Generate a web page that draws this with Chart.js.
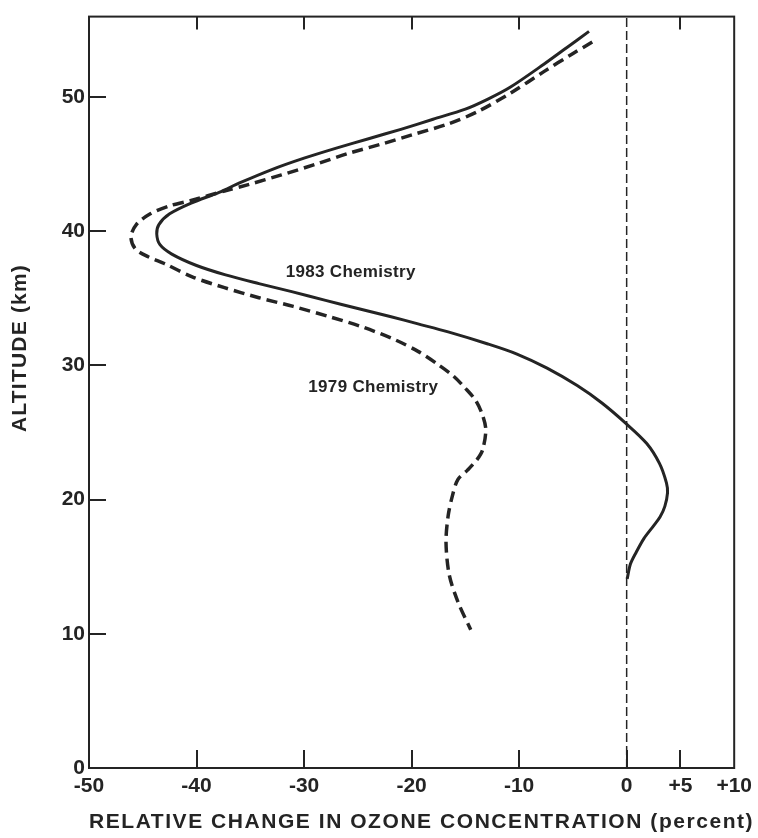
<!DOCTYPE html>
<html>
<head>
<meta charset="utf-8">
<title>Ozone change vs altitude</title>
<script src="https://cdn.jsdelivr.net/npm/chart.js@4.4.1/dist/chart.umd.min.js"></script>
<style>
  html, body { margin: 0; padding: 0; background: #fff; }
  #wrap { width: 758px; height: 838px; position: relative; }
</style>
</head>
<body>
<div id="wrap"><canvas id="c"></canvas></div>
<script>
// Relative change in ozone (percent) against altitude (km), pairs of [change, altitude]
const chem1983 = [
  [-3.5, 54.9], [-5.55, 53.7], [-7.7, 52.45], [-10.8, 50.75], [-12.9, 49.85],
  [-15.0, 49.1], [-18.0, 48.35], [-21.0, 47.6], [-24.0, 46.9], [-27.0, 46.2],
  [-30.0, 45.45], [-33.0, 44.6], [-36.0, 43.6], [-37.9, 42.9], [-40.5, 42.1],
  [-42.5, 41.3], [-43.5, 40.5], [-43.7, 39.8], [-43.4, 39.0], [-42.3, 38.3],
  [-40.0, 37.45], [-37.3, 36.75], [-34.2, 36.1], [-31.15, 35.5], [-28.0, 34.85],
  [-25.0, 34.25], [-22.0, 33.65], [-19.4, 33.1], [-16.6, 32.5], [-12.9, 31.6],
  [-10.2, 30.85], [-7.4, 29.8], [-4.6, 28.5], [-2.3, 27.2], [-0.1, 25.7],
  [1.85, 24.2], [3.05, 22.7], [3.7, 21.25], [3.8, 20.5], [3.55, 19.5],
  [3.1, 18.7], [2.5, 18.05], [1.6, 17.1], [0.9, 16.1], [0.35, 15.2], [0.05, 14.1]
];
const chem1979 = [
  [-3.2, 54.1], [-5.1, 53.2], [-7.7, 51.9], [-10.8, 50.3], [-13.9, 48.9],
  [-16.6, 48.0], [-19.9, 47.2], [-22.8, 46.5], [-25.9, 45.8], [-28.9, 45.0],
  [-32.1, 44.2], [-35.1, 43.5], [-37.4, 43.0], [-40.5, 42.3], [-42.5, 41.9],
  [-44.3, 41.3], [-45.6, 40.5], [-46.1, 39.6], [-45.7, 38.7], [-44.5, 38.1],
  [-43.0, 37.6], [-40.4, 36.6], [-37.4, 35.8], [-34.2, 35.05], [-31.0, 34.4],
  [-27.7, 33.65], [-24.5, 32.85], [-21.5, 31.9], [-19.4, 31.05], [-17.6, 30.1],
  [-16.1, 29.2], [-15.0, 28.3], [-14.05, 27.4], [-13.4, 26.3], [-13.1, 25.2],
  [-13.4, 23.7], [-13.9, 23.0], [-14.8, 22.2], [-15.7, 21.5], [-16.2, 20.3],
  [-16.6, 18.8], [-16.8, 16.8], [-16.5, 14.4], [-15.7, 12.4], [-14.5, 10.3]
];
const zeroLine = [[0, 0], [0, 56]];

const xTicks = [-50, -40, -30, -20, -10, 0, 5, 10];
const yTicks = [0, 10, 20, 30, 40, 50];
const bottomMarks = [-40, -30, -20, -10, 0, 5];
const topMarks = [-40, -30, -20, -10, 5];
const leftMarks = [10, 20, 30, 40, 50];

const seriesNames = ['1983 Chemistry', '1979 Chemistry'];
const xTitle = 'RELATIVE CHANGE IN OZONE CONCENTRATION (percent)';
const yTitle = 'ALTITUDE (km)';

const INK = '#242424';
const FONT = '"Liberation Sans", Arial, Helvetica, sans-serif';

const toXY = arr => arr.map(([x, y]) => ({ x, y }));

// Frame, inward tick marks, curve labels and axis titles
const decor = {
  id: 'decor',
  afterDraw(chart) {
    const { ctx, chartArea: a, scales: { x, y } } = chart;
    ctx.save();
    ctx.strokeStyle = INK;
    ctx.lineWidth = 2;
    ctx.strokeRect(a.left, a.top, a.right - a.left, a.bottom - a.top);

    ctx.beginPath();
    bottomMarks.forEach(v => {
      const px = Math.round(x.getPixelForValue(v));
      ctx.moveTo(px, a.bottom);
      ctx.lineTo(px, a.bottom - 18);
    });
    topMarks.forEach(v => {
      const px = Math.round(x.getPixelForValue(v));
      ctx.moveTo(px, a.top);
      ctx.lineTo(px, a.top + 13);
    });
    leftMarks.forEach(v => {
      const py = Math.round(y.getPixelForValue(v));
      ctx.moveTo(a.left, py);
      ctx.lineTo(a.left + 17, py);
    });
    ctx.stroke();

    ctx.fillStyle = INK;
    ctx.textBaseline = 'middle';
    ctx.textAlign = 'left';
    ctx.font = 'bold 17px ' + FONT;
    ctx.letterSpacing = '0.3px';
    ctx.fillText(seriesNames[0], x.getPixelForValue(-31.7), y.getPixelForValue(36.95));
    ctx.fillText(seriesNames[1], x.getPixelForValue(-29.6), y.getPixelForValue(28.4));

    ctx.font = 'bold 21px ' + FONT;
    ctx.letterSpacing = '1.55px';
    ctx.textAlign = 'left';
    ctx.fillText(xTitle, a.left, 822);

    ctx.translate(20, 348);
    ctx.rotate(-Math.PI / 2);
    ctx.textAlign = 'center';
    ctx.letterSpacing = '1.2px';
    ctx.fillText(yTitle, 0, 0);
    ctx.restore();
  }
};

new Chart(document.getElementById('c'), {
  type: 'scatter',
  data: {
    datasets: [
      {
        label: 'zero',
        data: toXY(zeroLine),
        showLine: true,
        borderColor: INK,
        borderWidth: 1.5,
        borderDash: [9, 4],
        pointRadius: 0,
        tension: 0
      },
      {
        label: seriesNames[1],
        data: toXY(chem1979),
        showLine: true,
        borderColor: INK,
        borderWidth: 3.5,
        borderDash: [11, 6],
        pointRadius: 0,
        tension: 0.3
      },
      {
        label: seriesNames[0],
        data: toXY(chem1983),
        showLine: true,
        borderColor: INK,
        borderWidth: 3,
        pointRadius: 0,
        tension: 0.3
      }
    ]
  },
  options: {
    responsive: true,
    maintainAspectRatio: false,
    animation: false,
    devicePixelRatio: 1,
    layout: { padding: { left: 0, right: 20, top: 10, bottom: 0 } },
    plugins: { legend: { display: false }, tooltip: { enabled: false } },
    scales: {
      x: {
        type: 'linear',
        min: -50,
        max: 10,
        grid: { display: false, drawTicks: false },
        border: { display: false },
        afterBuildTicks: s => { s.ticks = xTicks.map(v => ({ value: v })); },
        afterFit: s => { s.height = 70; },
        ticks: {
          padding: 6,
          color: INK,
          font: { family: FONT, size: 21, weight: 'bold' },
          maxRotation: 0,
          autoSkip: false,
          callback: v => (v > 0 ? '+' + v : String(v))
        }
      },
      y: {
        type: 'linear',
        min: 0,
        max: 56,
        grid: { display: false, drawTicks: false },
        border: { display: false },
        afterBuildTicks: s => { s.ticks = yTicks.map(v => ({ value: v })); },
        afterFit: s => { s.width = 89; },
        ticks: {
          padding: 4,
          color: INK,
          font: { family: FONT, size: 21, weight: 'bold' },
          autoSkip: false
        }
      }
    }
  },
  plugins: [decor]
});
</script>
</body>
</html>
